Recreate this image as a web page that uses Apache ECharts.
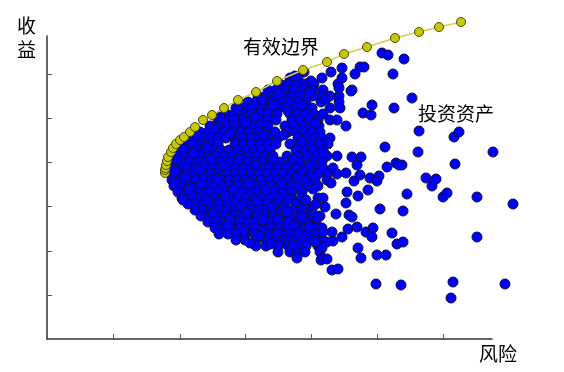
<!DOCTYPE html>
<html>
<head>
<meta charset="utf-8">
<script src="https://cdn.jsdelivr.net/npm/echarts@6/dist/echarts.min.js"></script>
<style>html,body{margin:0;padding:0;background:#fff;}#c{width:564px;height:372px;}</style>
</head>
<body>
<div id="c"></div>
<script>
// Efficient frontier (risk, return)
const frontierRisk   = [11.8,11.8,11.85,11.9,12.0,12.1,12.4,12.6,12.9,13.3,13.7,14.3,14.8,15.6,16.5,17.7,19.1,20.9,23.0,25.6,28.0,29.7,32.0,34.8,37.2,39.2,41.4];
const frontierReturn = [16.6,16.9,17.1,17.4,17.8,18.2,18.7,19.1,19.5,19.9,20.2,20.7,21.2,21.9,22.4,23.1,23.9,24.7,25.8,26.9,27.7,28.5,29.2,30.1,30.7,31.2,31.7];

// Investment assets: dense cloud, grouped by return level -> risks
const assetRows = [
  [26.7,[25.7,28.4]],
  [26.1,[24.3,25.1,27.5,29.5]],
  [25.5,[23.3,24.1,24.9,25.8,26.7,29.1]],
  [24.9,[22.1,22.9,23.8,24.7,25.6,26.6,27.6,30.5]],
  [24.3,[21.1,21.9,22.8,23.6,24.5,25.3,26.6,27.5,28.3,29.2]],
  [23.7,[20.1,20.9,21.7,22.5,23.4,24.2,25.1,25.9,27.4,29.2]],
  [23.1,[18.9,19.7,20.5,21.4,22.2,23.1,23.9,24.8,25.6,26.5,28.3,29.3]],
  [22.5,[17.9,18.7,19.6,20.4,21.3,22.1,23.0,24.3,25.1,25.9,26.7,27.6]],
  [21.9,[17.1,17.9,18.7,19.6,20.4,21.2,22.1,22.9,24.5,25.3,26.2,27.1,28.3,29.0]],
  [21.3,[16.3,17.1,18.0,18.8,19.6,20.5,21.3,22.1,23.8,24.7,25.6,26.4,27.2,29.9]],
  [20.7,[15.3,16.1,16.9,17.7,18.6,19.4,20.2,21.1,21.9,22.8,24.1,24.9,25.7,26.5,27.3]],
  [20.1,[14.7,15.5,16.3,17.1,17.9,18.8,19.6,20.4,21.3,22.1,23.1,25.1,25.9,26.8,27.5,28.3]],
  [19.5,[13.9,14.7,15.5,16.3,17.1,18.8,19.6,20.4,21.3,22.1,22.9,24.3,25.3,26.3,27.3,28.1]],
  [18.9,[13.3,14.1,14.9,15.7,16.6,17.4,18.2,19.0,19.9,20.7,21.5,22.3,24.9,25.8,26.6,27.5]],
  [18.3,[12.9,13.7,14.5,15.3,16.1,16.9,17.7,18.5,19.4,20.2,21.0,21.8,22.6,24.0,25.0,26.0,27.0,28.0,29.0]],
  [17.7,[12.7,13.5,14.3,15.1,15.9,16.7,17.5,18.3,19.1,20.0,20.8,21.6,22.4,23.3,24.3,25.3,26.5,27.5]],
  [17.1,[12.5,13.3,14.1,14.9,15.7,16.5,17.3,18.1,18.9,19.7,20.5,21.4,22.2,23.1,23.9,24.9,25.8,26.8,27.6,28.6]],
  [16.5,[12.4,13.2,14.0,14.8,15.6,16.4,17.2,18.0,18.8,19.6,20.4,21.2,22.0,22.8,23.6,24.5,25.3,26.3,27.1,28.0,29.0]],
  [15.9,[12.5,13.3,14.1,14.9,15.7,16.5,17.4,18.2,19.0,19.8,20.6,21.4,22.3,23.1,24.0,24.9,25.8,26.8,28.0]],
  [15.3,[12.7,13.5,14.3,15.1,15.9,16.7,17.5,18.3,19.1,19.9,20.8,21.6,22.4,23.2,24.2,25.1,26.1,27.1]],
  [14.7,[13.1,13.9,14.7,15.5,16.3,17.1,17.9,18.7,19.5,20.3,21.1,21.9,22.7,23.6,24.5,25.5]],
  [14.1,[13.5,14.3,15.1,15.9,16.7,17.5,18.3,19.1,19.9,20.7,21.5,22.3,23.2,24.5,25.5,27.1,27.6]],
  [13.5,[14.1,14.9,15.7,16.5,17.3,18.1,18.9,19.7,20.5,21.3,22.1,22.9,23.8,24.9,25.9,26.9]],
  [12.9,[14.8,15.6,16.4,17.2,18.0,18.8,19.6,20.4,21.2,22.0,22.8,23.6,24.6,25.5,26.5]],
  [12.3,[15.4,16.2,17.0,17.8,18.6,19.4,20.2,21.0,21.8,22.6,23.4,24.3,25.3,26.3,27.3]],
  [11.7,[16.1,16.9,17.7,18.5,19.3,20.1,20.9,21.7,22.5,23.3,24.1,25.1,25.9,26.9]],
  [11.1,[16.8,17.6,18.4,19.2,20.0,20.8,21.6,22.4,23.2,24.0,24.9,25.8,26.6,27.5]],
  [10.5,[17.2,18.1,19.0,19.9,20.8,21.7,22.5,23.4,24.3,25.2,26.1,27.0]],
  [9.9,[18.9,19.8,20.9,21.9,22.9,23.8,24.7,25.6,26.5,27.5]],
  [9.3,[20.9,21.9,23.1,24.1,25.1,25.9,27.1]],
  [8.7,[23.1,24.3,25.0,25.8,27.3]],
  [8.1,[25.0,27.5]]
];

// Investment assets: points lying between the rows of the dense cloud [risk, return]
const assetFill = [
  [13.0,17.9],[14.6,18.6],[16.0,19.2],[17.6,17.3],[19.2,18.0],[20.9,17.4],[22.6,18.0],[13.8,16.2],
  [15.4,15.5],[17.0,16.0],[18.6,15.0],[20.2,15.6],[21.8,14.9],[23.5,15.6],[14.5,14.4],[16.1,13.8],
  [17.8,14.3],[19.4,13.3],[21.0,13.8],[22.5,13.2],[24.1,14.0],[16.6,12.6],[18.3,12.0],[20.0,12.6],
  [21.6,11.9],[23.1,12.0],[18.0,11.4],[19.7,10.8],[21.3,10.3],[23.0,10.6],[24.7,11.4],[20.3,9.6],
  [22.4,9.5],[24.2,9.8],[15.0,20.4],[16.7,21.0],[18.3,20.5],[19.9,21.6],[21.7,20.4],[17.3,22.2],
  [19.1,22.9],[20.8,22.2],[22.6,23.4],[21.5,24.0],[23.2,24.6],[24.1,22.8],[25.5,23.4],[26.2,24.6],
  [24.8,26.3],[26.4,25.8],[27.9,24.0],[23.7,20.4],[25.5,19.8],[26.9,21.6],[24.6,18.0],[26.2,17.4],
  [27.7,18.6],[25.0,16.2],[26.6,15.0],[28.4,15.6],[25.9,13.9],[27.8,13.2],[28.9,12.5],[26.2,11.2],
  [28.6,9.8],[12.9,16.8],[13.6,19.0],[14.2,15.0],[15.2,17.0],[16.4,18.0],[12.8,15.6],[13.6,13.9]
];

// Investment assets: scattered outliers [risk, return]
const assetExtra = [
  [30.5,18.2],[31.4,18.2],[31.0,17.4],[29.9,16.6],[31.3,16.4],[30.7,15.8],[32.3,16.1],[33.2,16.3],
  [33.0,15.8],[32.1,14.9],[30.0,14.7],[31.1,14.3],[29.9,13.6],[30.2,12.4],[30.5,12.2],[33.3,13.0],
  [35.6,12.8],[36.0,14.5],[30.1,11.0],[31.0,11.2],[31.9,10.7],[32.6,11.1],[34.5,10.6],[29.5,10.2],
  [28.5,10.7],[35.0,9.5],[35.6,9.7],[32.5,10.2],[31.1,9.1],[31.4,8.1],[33.0,8.4],[33.9,8.4],
  [28.5,6.9],[29.1,7.0],[32.9,5.5],[35.4,5.4],[40.6,5.7],[40.4,4.1],[45.8,5.5],[43.0,10.2],
  [46.6,13.5],[43.0,14.2],[39.6,14.2],[40.0,14.6],[37.9,16.1],[38.9,16.0],[38.5,15.3],[35.5,17.4],
  [40.8,17.5],[37.1,18.7],[44.6,18.7],[33.8,19.2],[34.9,17.6],[35.2,17.4],[34.0,17.2],[37.2,20.8],
  [40.7,20.2],[41.2,20.7],[36.5,24.1],[35.7,28.0],[33.5,28.6],[34.1,28.4],[34.6,26.5],[34.7,23.1],
  [32.5,23.4],[31.6,22.6],[32.4,22.4],[31.3,27.2],[31.7,27.2],[30.8,26.5],[29.5,27.1],[30.4,24.8],
  [29.2,25.1],[24.0,12.7],[25.5,12.2],[26.6,12.4],[27.0,12.1],[27.6,10.7],[26.8,9.7],[28.0,9.7],
  [27.5,9.1],[27.4,7.9],[28.0,8.0],[24.6,9.4]
];

const xTicks = [6.6,13.3,19.8,26.4,33.0,39.6];
const yTicks = [4.4,8.8,13.3,17.7,22.1,26.5];

const assets = [];
assetRows.forEach(r => r[1].forEach(x => assets.push([x, r[0]])));
assetFill.forEach(p => assets.push(p));
assetExtra.forEach(p => assets.push(p));
const frontier = frontierRisk.map((x, i) => [x, frontierReturn[i]]);

const chart = echarts.init(document.getElementById('c'), null, {renderer: 'canvas'});
const fontFam = '"Noto Sans CJK SC", "Noto Sans", sans-serif';
chart.setOption({
  animation: false,
  backgroundColor: '#ffffff',
  grid: {left: 47, top: 36, width: 445, height: 303},
  xAxis: {
    type: 'value', min: 0, max: 44.5,
    axisLine: {show: true, lineStyle: {color: '#333', width: 1.5}},
    axisTick: {show: true, inside: true, length: 5, customValues: xTicks, lineStyle: {color: '#555', width: 1}},
    axisLabel: {show: false},
    splitLine: {show: false}
  },
  yAxis: {
    type: 'value', min: 0, max: 30.3,
    axisLine: {show: true, lineStyle: {color: '#333', width: 1.5}},
    axisTick: {show: true, inside: true, length: 5, customValues: yTicks, lineStyle: {color: '#555', width: 1}},
    axisLabel: {show: false},
    splitLine: {show: false}
  },
  graphic: [
    {type: 'text', left: 17, top: 14, style: {text: '收\n益', font: '19px ' + fontFam, fill: '#000', lineHeight: 24}},
    {type: 'text', left: 479, top: 344, style: {text: '风险', font: '19px ' + fontFam, fill: '#000'}},
    {type: 'text', left: 243, top: 37, style: {text: '有效边界', font: '19px ' + fontFam, fill: '#000'}},
    {type: 'text', left: 418, top: 104, style: {text: '投资资产', font: '19px ' + fontFam, fill: '#000'}}
  ],
  series: [
    {
      type: 'scatter', data: assets, clip: false, symbol: 'circle', symbolSize: 10,
      itemStyle: {color: '#0000ff', borderColor: '#10103a', borderWidth: 1, opacity: 1}
    },
    {
      type: 'line', data: frontier, clip: false, symbol: 'circle', symbolSize: 9, showSymbol: true,
      lineStyle: {color: '#d2d23c', width: 1.5},
      itemStyle: {color: '#c8c800', borderColor: '#4a4a10', borderWidth: 1}
    }
  ]
});
</script>
</body>
</html>
